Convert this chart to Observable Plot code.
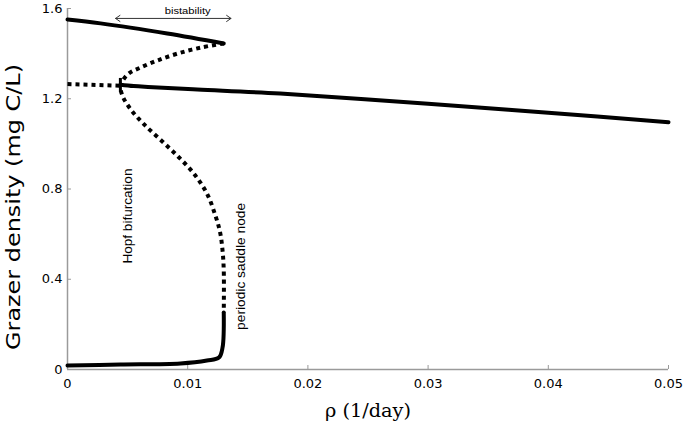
<!DOCTYPE html>
<html>
<head>
<meta charset="utf-8">
<script src="https://cdn.jsdelivr.net/npm/d3@7"></script>
<script src="https://cdn.jsdelivr.net/npm/@observablehq/plot@0.6"></script>
<style>
  html, body { margin: 0; padding: 0; background: #fff; }
</style>
</head>
<body>
<div id="chart"></div>
<script>
// ---- data ----
const xTicks = [0, 0.01, 0.02, 0.03, 0.04, 0.05];
const xTickLabels = ["0", "0.01", "0.02", "0.03", "0.04", "0.05"];
const yTicks = [0, 0.4, 0.8, 1.2, 1.6];
const yTickLabels = ["0", "0.4", "0.8", "1.2", "1.6"];

const xLabel = "ρ (1/day)";
const yLabel = "Grazer density (mg C/L)";

// stable upper equilibrium (solid)
const upperStableX = [0, 0.00275, 0.0083, 0.0130];
const upperStableY = [1.551, 1.534, 1.489, 1.445];

// unstable branch: fold -> Hopf -> periodic saddle node (dotted)
const unstableX = [0.0130, 0.0111, 0.0092, 0.0075, 0.0061, 0.0051, 0.0046, 0.0044, 0.0046, 0.0053, 0.0064, 0.0078, 0.0092, 0.0105, 0.0116, 0.0123, 0.0127, 0.0129, 0.0130, 0.0130];
const unstableY = [1.445, 1.427, 1.401, 1.370, 1.339, 1.312, 1.281, 1.254, 1.210, 1.150, 1.085, 1.015, 0.944, 0.869, 0.780, 0.683, 0.607, 0.527, 0.439, 0.253];

// unstable equilibrium left of Hopf (dotted)
const leftUnstableX = [0, 0.0044];
const leftUnstableY = [1.265, 1.258];

// stable equilibrium right of Hopf (solid)
const middleStableX = [0.0044, 0.0055, 0.0067, 0.0108, 0.0177, 0.030, 0.040, 0.050];
const middleStableY = [1.262, 1.256, 1.252, 1.241, 1.223, 1.178, 1.138, 1.096];

// stable limit cycle minimum (solid)
const lowerCycleX = [0, 0.0044, 0.0094, 0.0116, 0.0126, 0.0129, 0.0130];
const lowerCycleY = [0.018, 0.022, 0.027, 0.040, 0.053, 0.098, 0.253];

// Hopf point marker
const hopfX = [0.0044];
const hopfYRange = [1.23, 1.29];

// annotations
const bistabilityRange = [0.0040, 0.0136];
const bistabilityY = 1.556;
const bistabilityText = "bistability";
const bistabilityTextPos = [0.0100, 1.59];
const hopfText = "Hopf bifurcation";
const hopfTextPos = [0.00500, 0.68];
const psnText = "periodic saddle node";
const psnTextPos = [0.0144, 0.457];

// ---- build ----
const pts = (xs, ys) => xs.map((x, i) => ({x, y: ys[i]}));
const mid = (bistabilityRange[0] + bistabilityRange[1]) / 2;

const tickColor = "#9a9a9a";

const chart = Plot.plot({
  width: 685,
  height: 425,
  marginLeft: 67,
  marginRight: 17,
  marginTop: 8,
  marginBottom: 56,
  style: {fontFamily: "DejaVu Sans", fontSize: "13px", color: "black", background: "white"},
  x: {domain: [0, 0.05]},
  y: {domain: [0, 1.6]},
  marks: [
    Plot.axisX({ticks: xTicks, tickFormat: (d) => xTickLabels[xTicks.indexOf(d)], tickSize: -4, tickPadding: 13, stroke: tickColor, fill: "black", label: null, fontSize: 13}),
    Plot.axisY({ticks: yTicks, tickFormat: (d) => yTickLabels[yTicks.indexOf(d)], tickSize: -4, tickPadding: 9, stroke: tickColor, fill: "black", label: null, fontSize: 13}),
    Plot.ruleY([0], {stroke: tickColor, strokeWidth: 1.5}),
    Plot.ruleX([0], {stroke: tickColor, strokeWidth: 1.5}),
    // curves
    Plot.line(pts(upperStableX, upperStableY), {x: "x", y: "y", stroke: "black", strokeWidth: 4, curve: "catmull-rom"}),
    Plot.line(pts(middleStableX, middleStableY), {x: "x", y: "y", stroke: "black", strokeWidth: 4, curve: "catmull-rom"}),
    Plot.line(pts(lowerCycleX, lowerCycleY), {x: "x", y: "y", stroke: "black", strokeWidth: 4, curve: "catmull-rom"}),
    Plot.line(pts(unstableX, unstableY), {x: "x", y: "y", stroke: "black", strokeWidth: 4, strokeDasharray: "4,4", strokeLinecap: "butt", curve: "catmull-rom"}),
    Plot.line(pts(leftUnstableX, leftUnstableY), {x: "x", y: "y", stroke: "black", strokeWidth: 4, strokeDasharray: "4,4", strokeLinecap: "butt"}),
    Plot.ruleX(hopfX, {y1: hopfYRange[0], y2: hopfYRange[1], stroke: "black", strokeWidth: 3}),
    // bistability double arrow
    Plot.arrow([bistabilityRange[0], bistabilityRange[1]], {x1: mid, x2: d => d, y1: bistabilityY, y2: bistabilityY, stroke: "#333", strokeWidth: 1, headLength: 8, headAngle: 70}),
    Plot.text([bistabilityText], {x: bistabilityTextPos[0], y: bistabilityTextPos[1], text: d => d, fontFamily: "Liberation Sans", fontSize: 9.5, fill: "black"}),
    Plot.text([hopfText], {x: hopfTextPos[0], y: hopfTextPos[1], text: d => d, rotate: -90, fontFamily: "Liberation Sans", fontSize: 13, fill: "black"}),
    Plot.text([psnText], {x: psnTextPos[0], y: psnTextPos[1], text: d => d, rotate: -90, fontFamily: "Liberation Sans", fontSize: 13, fill: "black"}),
    // axis labels
    Plot.text([xLabel], {frameAnchor: "bottom", dy: 47, textAnchor: "middle", text: d => d, fontFamily: "DejaVu Serif", fontSize: 18, fill: "black"}),
    Plot.text([yLabel], {frameAnchor: "left", dx: -54, dy: 18, rotate: -90, textAnchor: "middle", text: d => d, fontFamily: "DejaVu Sans", fontSize: 19, fill: "black"})
  ]
});

// stretch labels to match the reference lengths
const sel = d3.select(chart);
const fit = (txt, len) => sel.selectAll("text").filter(function() { return this.textContent === txt; })
  .attr("textLength", len).attr("lengthAdjust", "spacingAndGlyphs");
fit(yLabel, 286);
fit(xLabel, 86);
fit(hopfText, 95);
fit(psnText, 127);
fit(bistabilityText, 46);

document.getElementById("chart").appendChild(chart);
</script>
</body>
</html>
